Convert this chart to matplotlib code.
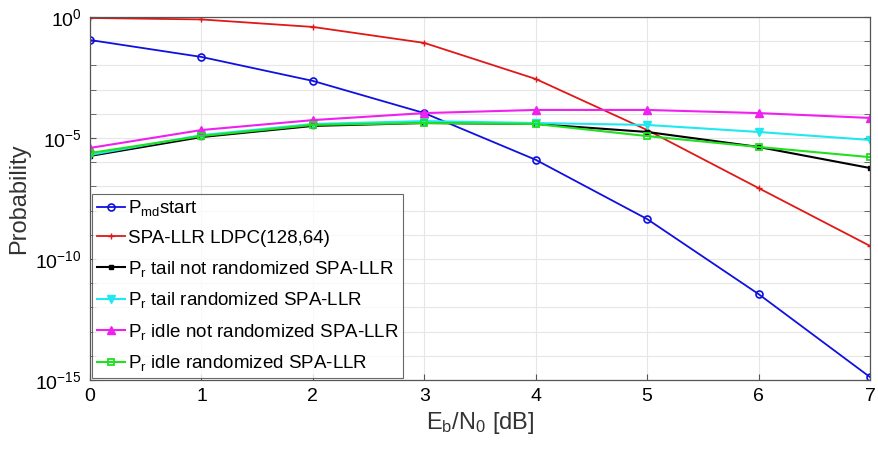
import numpy as np
import matplotlib
matplotlib.use("Agg")
import matplotlib.pyplot as plt
from matplotlib.ticker import NullFormatter

plt.rcParams["font.family"] = ["Liberation Sans", "DejaVu Sans"]
plt.rcParams["mathtext.fontset"] = "custom"
plt.rcParams["mathtext.rm"] = "Liberation Sans"
plt.rcParams["mathtext.it"] = "Liberation Sans"

# Eb/N0 values (dB)
ebn0 = [0, 1, 2, 3, 4, 5, 6, 7]

# log10 of probabilities
p_md_start = [-0.95, -1.65, -2.64, -3.97, -5.9, -8.35, -11.45, -14.88]
spa_llr_ldpc = [-0.04, -0.1, -0.41, -1.07, -2.56, -4.67, -7.07, -9.46]
tail_not_rand = [-5.74, -4.96, -4.5, -4.38, -4.42, -4.75, -5.37, -6.24]
tail_rand = [-5.7, -4.88, -4.42, -4.3, -4.38, -4.46, -4.75, -5.08]
idle_not_rand = [-5.41, -4.67, -4.26, -3.97, -3.84, -3.84, -3.97, -4.17]
idle_rand = [-5.62, -4.92, -4.46, -4.38, -4.42, -4.92, -5.37, -5.79]

labels = [
    r"P$_{\rm md}$start",
    "SPA-LLR LDPC(128,64)",
    r"P$_{\rm r}$ tail not randomized SPA-LLR",
    r"P$_{\rm r}$ tail randomized SPA-LLR",
    r"P$_{\rm r}$ idle not randomized SPA-LLR",
    r"P$_{\rm r}$ idle randomized SPA-LLR",
]


def to_prob(vals):
    """converts log10 values to probabilities"""
    return 10.0 ** np.array(vals)


fig = plt.figure(figsize=(8.79, 4.55), dpi=100)
ax = fig.add_axes([0.1024, 0.1648, 0.8874, 0.7978])

ax.semilogy(ebn0, to_prob(p_md_start), color="#1010e0", marker="o", markersize=5,
            markerfacecolor="none", markeredgewidth=1.2, linewidth=1.3, label=labels[0])
ax.semilogy(ebn0, to_prob(spa_llr_ldpc), color="#e01818", marker="+", markersize=5,
            linewidth=1.3, label=labels[1])
ax.semilogy(ebn0, to_prob(tail_not_rand), color="black", marker="s", markersize=3,
            linewidth=1.5, label=labels[2])
ax.semilogy(ebn0, to_prob(tail_rand), color="#20e8f0", marker="v", markersize=6,
            linewidth=1.5, label=labels[3])
ax.semilogy(ebn0, to_prob(idle_not_rand), color="#f020f0", marker="^", markersize=6,
            linewidth=1.5, label=labels[4])
ax.semilogy(ebn0, to_prob(idle_rand), color="#20e020", marker="s", markersize=5,
            markerfacecolor="none", markeredgewidth=1.3, linewidth=1.5, label=labels[5])

ax.set_xlim(0, 7)
ax.set_ylim(1e-15, 1.0)
ax.set_xticks(ebn0)
ax.set_yticks([1e-15, 1e-10, 1e-5, 1e0])
ax.set_yticks([10.0 ** k for k in range(-15, 1)], minor=True)
ax.yaxis.set_minor_formatter(NullFormatter())

ax.grid(True, which="major", color="#e6e6e6", linewidth=0.8)
ax.grid(True, which="minor", axis="y", color="#e6e6e6", linewidth=0.8)
ax.set_axisbelow(True)

ax.tick_params(axis="both", which="both", direction="in", labelsize=14,
               color="#555555", top=False, right=True)
ax.tick_params(axis="y", which="minor", length=4)
ax.tick_params(axis="both", which="major", length=4, pad=6)
for side in ax.spines.values():
    side.set_color("#555555")
    side.set_linewidth(0.9)

ax.set_xlabel(r"E$_{\rm b}$/N$_{\rm 0}$ [dB]", fontsize=17, color="#333333", labelpad=3)
ax.set_ylabel("Probability", fontsize=17, color="#333333", labelpad=4)

leg = ax.legend(loc="lower left", fontsize=13.5, frameon=True, fancybox=False,
                edgecolor="#444444", labelspacing=0.62, handlelength=1.5,
                handletextpad=0.15, borderaxespad=0.1, borderpad=0.25)
leg.get_frame().set_linewidth(0.8)

fig.savefig("out.png", dpi=100)
